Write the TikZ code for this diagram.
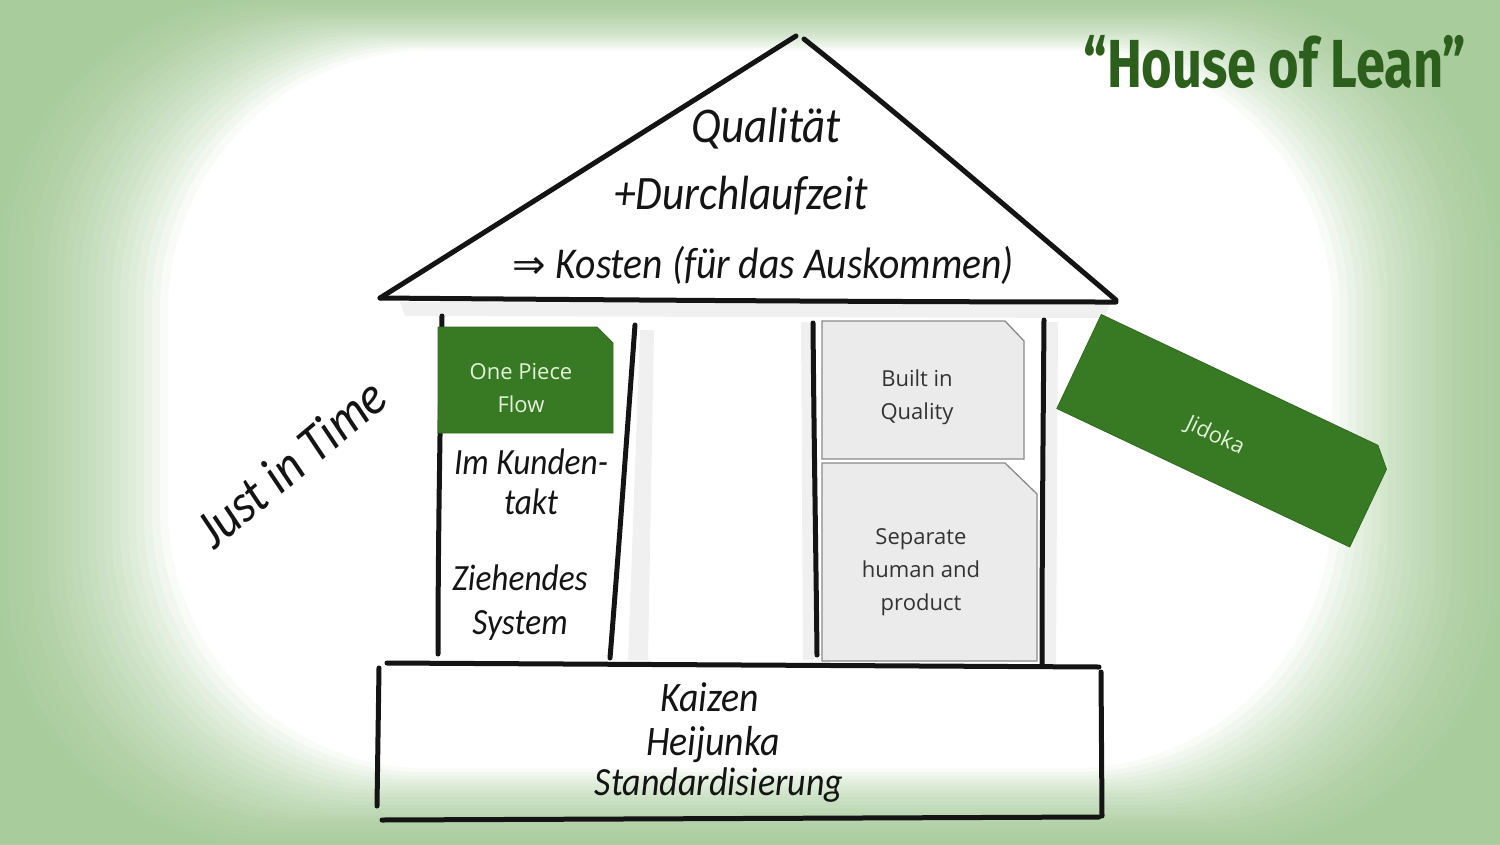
\documentclass[tikz,border=0pt]{standalone}
\usepackage{fontspec}
\newfontfamily\boxfont{Open Sans}
\newfontfamily\handfont[FakeStretch=0.9]{Carlito}
\newfontfamily\titlefont[FakeStretch=0.77]{Fira Sans}
\newfontfamily\arrowfont{DejaVu Sans}
\newcommand\fsz[2]{\fontsize{#1}{#2}\selectfont}
\definecolor{leangreen}{HTML}{387A23}
\definecolor{titlegreen}{HTML}{2C5E1C}
\definecolor{boxgray}{HTML}{EBEBEB}
\definecolor{boxedge}{HTML}{8A8A8A}
\definecolor{paletext}{HTML}{E2F2DA}
\definecolor{ink}{HTML}{141414}
\definecolor{wash}{RGB}{150,196,134}
\begin{document}
\begin{tikzpicture}[x=1pt,y=-1pt,
  marker/.style={line width=5pt, line cap=round, draw=ink},
  greenbox/.style={fill=leangreen, draw=leangreen!85!black, line width=0.8pt},
  graybox/.style={fill=boxgray, draw=boxedge, line width=1.3pt},
  boxtext/.style={align=center, inner sep=0pt, font=\boxfont\fsz{22}{33}},
  hand/.style={align=center, inner sep=0pt, text=ink},
  smudge/.style={fill=black, opacity=0.06},
  washlayer/.style={fill=wash, opacity=0.065, even odd rule}
]
\useasboundingbox (0,0) rectangle (1500,844);
% background wash: soft green frame built from layers
\fill[white] (0,0) rectangle (1500,844);
\foreach \d in {0,8,...,168}
  \fill[washlayer] (-5,-5) rectangle (1505,849)
    [rounded corners=260] ({\d},{0.3*\d}) rectangle ({1500-\d},{844-0.45*\d});

% marker smudges
\fill[smudge] (400,302) -- (1110,304) -- (1105,318) -- (405,316) -- cycle;
\fill[smudge] (640,330) -- (654,330) -- (648,660) -- (628,660) -- cycle;
\fill[smudge] (801,322) -- (812,322) -- (814,660) -- (803,660) -- cycle;
\fill[smudge] (1046,322) -- (1058,322) -- (1056,668) -- (1044,668) -- cycle;

% roof
\draw[marker] (380,298) -- (796,36);
\draw[marker] (804,39) .. controls (900,115) and (1010,210) .. (1116,300);
\draw[marker] (380,298) .. controls (620,300) and (900,302) .. (1116,302);
\node[hand, font=\handfont\itshape\fsz{50}{50}] (qual) at (766,128) {Qualität};
\node[hand, font=\handfont\itshape\fsz{48}{48}] (durch) at (741,196) {+Durchlaufzeit};
\node[hand, font=\handfont\itshape\fsz{44}{44}] (kosten) at (763,265) {{\arrowfont\fsz{40}{40}⇒}\hspace{10pt}Kosten (für das Auskommen)};

% left pillar
\draw[marker] (442,316) .. controls (440,430) and (438,550) .. (438,654);
\draw[marker] (635,325) .. controls (628,420) and (618,560) .. (610,658);
\path[greenbox] (438,327) -- (597,327) -- (613,343) -- (613,433) -- (438,433) -- cycle;
\node[boxtext, text=paletext] (opf) at (521,388) {One Piece\\Flow};
\node[hand, font=\handfont\itshape\fsz{37}{40}] (kunde) at (531,482) {Im Kunden-\\takt};
\node[hand, font=\handfont\itshape\fsz{37}{44}] (zieh) at (520,603) {Ziehendes\\System};

% right pillar
\draw[marker] (813,323) .. controls (814,440) and (816,560) .. (817,655);
\draw[marker] (1044,320) .. controls (1043,440) and (1042,560) .. (1042,665);
\path[graybox] (822,321) -- (1005,321) -- (1024,341) -- (1024,459) -- (822,459) -- cycle;
\node[boxtext, text=black!80] (biq) at (917,397) {Built in\\Quality};
\path[graybox] (822,463) -- (1005,463) -- (1037,494) -- (1037,661) -- (822,661) -- cycle;
\node[boxtext, text=black!80] (sep) at (921,572) {Separate\\human and\\product};

% Jidoka
\begin{scope}[shift={(1225.5,430.75)}, rotate=-25.3]
  \path[greenbox] (-162,-52) -- (144,-52) -- (162,-34) -- (162,52) -- (-162,52) -- cycle;
\end{scope}
\node[boxtext, text=paletext, rotate=-25.3] (jid) at (1215,436) {Jidoka};

% Just in Time
\node[hand, rotate=40, font=\handfont\itshape\fsz{54}{54}] (jit) at (291,463) {Just in Time};

% foundation
\draw[marker] (387,663) -- (1099,667);
\draw[marker] (379,668) -- (377,806);
\draw[marker] (1101,672) -- (1102,816);
\draw[marker] (382,820) -- (1099,817);
\node[hand, font=\handfont\itshape\fsz{42}{42}] (kaizen) at (710,697) {Kaizen};
\node[hand, font=\handfont\itshape\fsz{42}{42}] (heij) at (713,745) {Heijunka};
\node[hand, font=\handfont\itshape\fsz{40}{40}] (stand) at (719,785) {Standardisierung};

% title
\node[inner sep=0pt, text=titlegreen, font=\titlefont\bfseries\fsz{68}{68}] (title) at (1275,62) {“House of Lean”};
\end{tikzpicture}
\end{document}
